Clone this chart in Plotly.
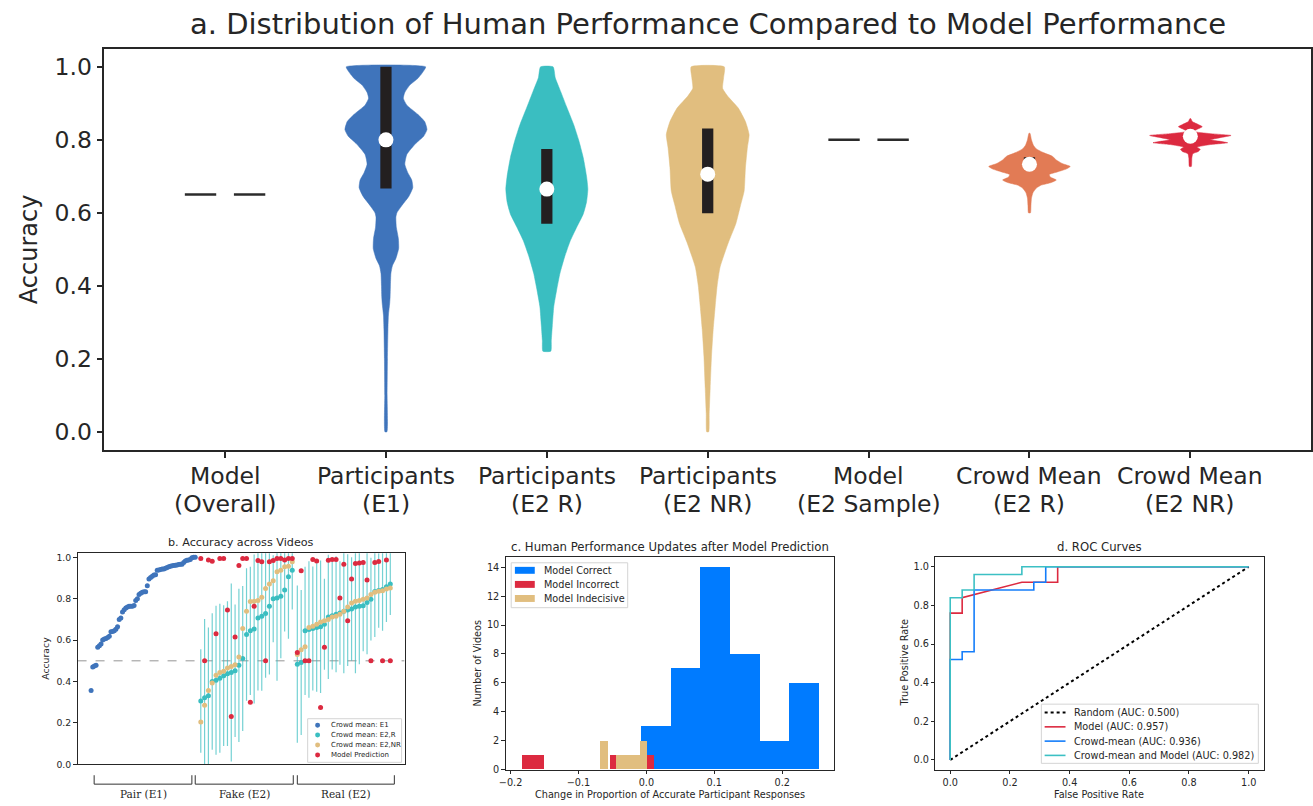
import plotly.graph_objects as go

W, H = 1313, 806
TXT = "#262626"
FONT = "DejaVu Sans"

# ---------------- Panel a data ----------------
a_labels_line1 = ["Model", "Participants", "Participants", "Participants", "Model", "Crowd Mean",
                  "Crowd Mean"]
a_labels_line2 = ["(Overall)", "(E1)", "(E2 R)", "(E2 NR)", "(E2 Sample)", "(E2 R)", "(E2 NR)"]
model_overall_acc = 0.65
model_e2_sample_acc = 0.80

# density profiles (accuracy level, relative half-width)
e1_levels = [1.0, 0.985, 0.968, 0.95, 0.93, 0.914, 0.895, 0.87, 0.85, 0.828, 0.81, 0.79, 0.76,
             0.733, 0.71, 0.69, 0.669, 0.645, 0.62, 0.60, 0.588, 0.56, 0.53, 0.502, 0.475,
             0.455, 0.434, 0.40, 0.37, 0.353, 0.32, 0.28, 0.2, 0.1, 0.0]
e1_density = [40, 37, 32, 24, 19, 17.5, 21, 32, 39, 41.3, 38, 30, 21, 19, 22, 26, 27, 23, 16, 11,
              10, 10.5, 12.5, 12.8, 10, 6.5, 5, 4.5, 4.2, 3.8, 2.5, 2, 1.5, 1.2, 1.0]
e2r_levels = [1.0, 0.97, 0.932, 0.89, 0.842, 0.80, 0.751, 0.70, 0.665, 0.63, 0.597, 0.56, 0.524,
              0.48, 0.435, 0.39, 0.343, 0.29, 0.25, 0.221]
e2r_density = [6.3, 8.5, 14, 20, 27, 32, 36.7, 40, 41.3, 40, 36.7, 30, 23.7, 18, 13.3, 10, 7,
               5.5, 4.5, 4]
e2nr_levels = [1.0, 0.97, 0.941, 0.92, 0.887, 0.85, 0.814, 0.78, 0.724, 0.66, 0.62, 0.57, 0.52,
               0.452, 0.40, 0.343, 0.28, 0.207, 0.12, 0.05, 0.0]
e2nr_density = [16.7, 16, 15, 20, 30.8, 38, 41.7, 40, 38, 36.7, 33, 28.3, 21, 12.5, 9.5, 7.5,
                5.5, 3.8, 2.5, 1.5, 1.0]
crowd_r_levels = [0.818, 0.80, 0.785, 0.775, 0.765, 0.755, 0.745, 0.735, 0.727, 0.72, 0.712,
                  0.705, 0.698, 0.69, 0.683, 0.676, 0.668, 0.655, 0.64, 0.62, 0.60]
crowd_r_density = [0.5, 2, 4, 7, 14, 23, 27, 33, 41, 37, 28, 20, 21, 27, 22, 12, 7, 3.5, 2, 1.5, 1]
crowd_nr_levels = [0.858, 0.85, 0.842, 0.836, 0.829, 0.823, 0.817, 0.812, 0.806, 0.800, 0.796,
                   0.792, 0.787, 0.780, 0.774, 0.768, 0.762, 0.75, 0.727]
crowd_nr_density = [0.5, 2, 8, 12, 7, 3.5, 20, 41, 30, 20, 30, 37.6, 20, 7, 10, 8, 2.5, 1.5, 1]

box_pos = [1, 2, 3, 5, 6]
box_q1 = [0.667, 0.570, 0.599, 0.733, 0.806]
box_median = [0.80, 0.665, 0.706, 0.733, 0.81]
box_q3 = [1.0, 0.775, 0.831, 0.752, 0.815]

col_e1 = "rgb(63,116,187)"
col_teal = "rgb(58,190,193)"
col_tan = "rgb(225,190,127)"
col_orange = "rgb(226,123,85)"
col_red = "rgb(220,42,64)"

# ---------------- Panel b data ----------------
e1_acc = [0.357, 0.47, 0.475, 0.478, 0.565, 0.573, 0.581, 0.60, 0.605, 0.608, 0.613, 0.619, 0.64,
          0.642, 0.645, 0.653, 0.664, 0.70, 0.707, 0.736, 0.747, 0.755, 0.76, 0.764, 0.764, 0.764,
          0.767, 0.791, 0.80, 0.82, 0.826, 0.831, 0.834, 0.834, 0.863, 0.895, 0.903, 0.909, 0.914,
          0.916, 0.938, 0.939, 0.941, 0.943, 0.943, 0.947, 0.951, 0.954, 0.957, 0.959, 0.96, 0.962,
          0.963, 0.965, 0.967, 0.967, 0.975, 0.982, 0.986, 0.987, 0.99, 0.998, 1.0, 1.0]
fake_r = [0.306, 0.322, 0.331, 0.40, 0.406, 0.416, 0.428, 0.438, 0.444, 0.452, 0.478, 0.511, 0.627,
          0.645, 0.654, 0.707, 0.715, 0.728, 0.764, 0.80, 0.804, 0.812, 0.842, 0.906, 0.938]
fake_r_err = [0.25, 0.38, 0.33, 0.33, 0.36, 0.36, 0.34, 0.35, 0.43, 0.32, 0.37, 0.35, 0.32, 0.31,
              0.36, 0.35, 0.36, 0.31, 0.33, 0.21, 0.40, 0.30, 0.20, 0.30, 0.19]
fake_nr = [0.205, 0.285, 0.357, 0.393, 0.43, 0.443, 0.449, 0.465, 0.473, 0.481, 0.519, 0.656, 0.74,
           0.787, 0.788, 0.791, 0.807, 0.849, 0.871, 0.887, 0.93, 0.938, 0.954, 0.957, 0.979]
fake_model = [0.994, 0.50, 0.987, 0.981, 0.631, 0.994, 0.994, 0.745, 0.231, 0.615, 0.96, 0.994,
              0.994, 0.30, 0.763, 0.985, 0.978, 0.50, 0.978, 0.985, 0.994, 0.994, 0.987, 0.994,
              0.994]
real_r = [0.484, 0.492, 0.645, 0.651, 0.656, 0.661, 0.664, 0.677, 0.712, 0.718, 0.725, 0.731, 0.74,
          0.745, 0.75, 0.76, 0.763, 0.766, 0.782, 0.798, 0.835, 0.84, 0.845, 0.858, 0.871]
real_r_err = [0.38, 0.35, 0.31, 0.33, 0.30, 0.31, 0.32, 0.22, 0.30, 0.26, 0.28, 0.25, 0.30, 0.27,
              0.25, 0.32, 0.28, 0.22, 0.25, 0.20, 0.22, 0.18, 0.20, 0.17, 0.15]
real_nr = [0.53, 0.553, 0.568, 0.661, 0.667, 0.677, 0.688, 0.693, 0.699, 0.712, 0.715, 0.725, 0.74,
           0.76, 0.779, 0.788, 0.791, 0.798, 0.804, 0.82, 0.831, 0.836, 0.839, 0.847, 0.852]
real_model = [0.54, 0.935, 0.50, 0.50, 0.99, 0.982, 0.274, 0.565, 0.986, 0.99, 0.99, 0.804, 0.967,
              0.693, 0.895, 0.97, 0.973, 0.975, 0.89, 0.50, 0.975, 0.98, 0.50, 0.987, 0.50]
b_groups = ["Pair (E1)", "Fake (E2)", "Real (E2)"]
b_legend = ["Crowd mean: E1", "Crowd mean: E2,R", "Crowd mean: E2,NR", "Model Prediction"]

# ---------------- Panel c data ----------------
hist_correct_edges = [-0.0083, 0.0354, 0.0790, 0.1227, 0.1664, 0.2100, 0.2537]
hist_correct_counts = [3, 7, 14, 8, 2, 6]
hist_incorrect_bins = [(-0.1844, -0.1512), (-0.0546, -0.0213), (-0.0213, 0.0112)]
hist_incorrect_counts = [1, 1, 1]
hist_indecisive_edges = [-0.0693, -0.0576, -0.0459, -0.0342, -0.0225, -0.0107, 0.0010]
hist_indecisive_counts = [2, 0, 1, 1, 1, 2]
c_legend = ["Model Correct", "Model Incorrect", "Model Indecisive"]
col_blue = "rgb(0,123,255)"

# ---------------- Panel d data ----------------
roc_random = ([0, 1], [0, 1])
roc_model = ([0, 0, 0.04, 0.04, 0.24, 0.36, 0.36, 1.0],
             [0, 0.76, 0.76, 0.84, 0.92, 0.92, 1.0, 1.0])
roc_crowd = ([0, 0, 0.04, 0.04, 0.08, 0.08, 0.28, 0.28, 0.32, 0.32, 1.0],
             [0, 0.52, 0.52, 0.56, 0.56, 0.88, 0.88, 0.92, 0.92, 1.0, 1.0])
roc_both = ([0, 0, 0.04, 0.04, 0.08, 0.08, 0.24, 0.24, 1.0],
            [0, 0.84, 0.84, 0.88, 0.88, 0.96, 0.96, 1.0, 1.0])
roc_names = ["Random (AUC: 0.500)", "Model (AUC: 0.957)", "Crowd-mean (AUC: 0.936)",
             "Crowd-mean and Model (AUC: 0.982)"]
col_roc_blue = "rgb(20,125,250)"
col_roc_teal = "rgb(60,192,196)"

fig = go.Figure()


def px(xp):
    return xp / W


def py(yp):
    return 1 - yp / H


# ---------- panel a ----------
PX_PER_CAT = 162.0


def violin(center, levels, dens, color):
    s = 1.0 / PX_PER_CAT
    xs = [center + d * s for d in dens] + [center - d * s for d in reversed(dens)]
    ys = list(levels) + list(reversed(levels))
    xs.append(xs[0]); ys.append(ys[0])
    fig.add_trace(go.Scatter(x=xs, y=ys, mode="lines", fill="toself", fillcolor=color,
                             line=dict(color=color, width=0.5, shape="spline", smoothing=0.5),
                             showlegend=False, hoverinfo="skip", xaxis="x", yaxis="y"))


def model_dash(center, val):
    fig.add_trace(go.Scatter(x=[center - 0.25, center - 0.055, None, center + 0.055, center + 0.25],
                             y=[val, val, None, val, val], mode="lines",
                             line=dict(color="#2b2b2b", width=2.5), showlegend=False,
                             xaxis="x", yaxis="y"))


model_dash(0, model_overall_acc)
violin(1, e1_levels, e1_density, col_e1)
violin(2, e2r_levels, e2r_density, col_teal)
violin(3, e2nr_levels, e2nr_density, col_tan)
model_dash(4, model_e2_sample_acc)
violin(5, crowd_r_levels, crowd_r_density, col_orange)
violin(6, crowd_nr_levels, crowd_nr_density, col_red)

BOX_HW = 0.035
bx, by = [], []
for c, q1, q3 in zip(box_pos, box_q1, box_q3):
    bx += [c - BOX_HW, c + BOX_HW, c + BOX_HW, c - BOX_HW, c - BOX_HW, None]
    by += [q1, q1, q3, q3, q1, None]
fig.add_trace(go.Scatter(x=bx, y=by, mode="lines", fill="toself", fillcolor="#231f20",
                         line=dict(color="#231f20", width=0), showlegend=False,
                         xaxis="x", yaxis="y"))
fig.add_trace(go.Scatter(x=box_pos, y=box_median, mode="markers",
                         marker=dict(color="white", size=15, line=dict(width=0)),
                         showlegend=False, xaxis="x", yaxis="y"))

for i, (l1, l2) in enumerate(zip(a_labels_line1, a_labels_line2)):
    fig.add_annotation(x=i, xref="x", y=py(478), yref="paper", text=l1, showarrow=False,
                       font=dict(size=23.5, color=TXT), yanchor="middle")
    fig.add_annotation(x=i, xref="x", y=py(506.5), yref="paper", text=l2, showarrow=False,
                       font=dict(size=23.5, color=TXT), yanchor="middle")

# ---------- panel b ----------
def spread(a, b, n):
    return [a + (b - a) * i / (n - 1) for i in range(n)]


x_e1 = spread(-0.03, 1.0, len(e1_acc))
x_fake = spread(1.055, 1.96, len(fake_r))
x_real = spread(2.01, 2.93, len(real_r))

fig.add_shape(type="line", xref="x2", yref="y2", x0=-0.164, x1=3.071, y0=0.5, y1=0.5,
              line=dict(color="#7a7a7a", width=0.8, dash="dash"), layer="below")

fig.add_trace(go.Scatter(x=x_e1, y=e1_acc, mode="markers", name=b_legend[0],
                         marker=dict(color=col_e1, size=5), xaxis="x2", yaxis="y2",
                         showlegend=False))
fig.add_trace(go.Scatter(x=x_fake + x_real, y=fake_r + real_r, mode="markers",
                         name=b_legend[1], marker=dict(color=col_teal, size=5),
                         error_y=dict(type="data", array=fake_r_err + real_r_err, symmetric=True,
                                      color="rgba(58,190,193,0.7)", thickness=1.2, width=0),
                         xaxis="x2", yaxis="y2", showlegend=False))
fig.add_trace(go.Scatter(x=x_fake + x_real, y=fake_nr + real_nr, mode="markers",
                         name=b_legend[2], marker=dict(color=col_tan, size=5),
                         xaxis="x2", yaxis="y2", showlegend=False))
fig.add_trace(go.Scatter(x=x_fake + x_real, y=fake_model + real_model, mode="markers",
                         name=b_legend[3], marker=dict(color=col_red, size=5),
                         xaxis="x2", yaxis="y2", showlegend=False))

bracket_spans = [(0.0, 0.967), (1.0, 1.97), (2.01, 2.97)]
for (x0, x1), lab in zip(bracket_spans, b_groups):
    for sh in [dict(x0=x0, x1=x1, y0=py(789), y1=py(789)),
               dict(x0=x0, x1=x0, y0=py(789), y1=py(780)),
               dict(x0=x1, x1=x1, y0=py(789), y1=py(780))]:
        fig.add_shape(type="line", xref="x2", yref="paper", line=dict(color="#333", width=1), **sh)
    fig.add_annotation(x=(x0 + x1) / 2, xref="x2", y=py(799), yref="paper", text=lab,
                       showarrow=False, font=dict(family="DejaVu Serif", size=10.5, color=TXT),
                       yanchor="middle")

# ---------- panel c ----------
def bars_from_edges(edges, counts, color, name):
    centers = [(edges[i] + edges[i + 1]) / 2 for i in range(len(counts))]
    widths = [edges[i + 1] - edges[i] for i in range(len(counts))]
    fig.add_trace(go.Bar(x=centers, y=counts, width=widths, name=name,
                         marker=dict(color=color, line=dict(width=0)),
                         xaxis="x3", yaxis="y3", showlegend=False))


bars_from_edges(hist_correct_edges, hist_correct_counts, col_blue, c_legend[0])
fig.add_trace(go.Bar(x=[(a + b) / 2 for a, b in hist_incorrect_bins], y=hist_incorrect_counts,
                     width=[b - a for a, b in hist_incorrect_bins], name=c_legend[1],
                     marker=dict(color=col_red, line=dict(width=0)),
                     xaxis="x3", yaxis="y3", showlegend=False))
bars_from_edges(hist_indecisive_edges, hist_indecisive_counts, col_tan, c_legend[2])

# ---------- panel d ----------
roc_styles = [dict(color="black", width=2, dash="dot"), dict(color=col_red, width=1.6),
              dict(color=col_roc_blue, width=1.6), dict(color=col_roc_teal, width=1.6)]
for (xs, ys), name, st in zip([roc_random, roc_model, roc_crowd, roc_both], roc_names, roc_styles):
    fig.add_trace(go.Scatter(x=xs, y=ys, mode="lines", name=name, line=st,
                             xaxis="x4", yaxis="y4", showlegend=False))


# ---------- legends (drawn as boxes, symbols and text) ----------
def legend_frame(x0, y0, x1, y1):
    fig.add_shape(type="rect", xref="paper", yref="paper", x0=px(x0), x1=px(x1), y0=py(y0),
                  y1=py(y1), fillcolor="rgba(255,255,255,0.85)",
                  line=dict(color="#d4d4d4", width=1), layer="above")


def legend_text(x, y, text, size):
    fig.add_annotation(x=px(x), y=py(y), xref="paper", yref="paper", text=text, showarrow=False,
                       xanchor="left", yanchor="middle", font=dict(size=size, color=TXT))


# panel b legend
legend_frame(302.5, 723, 397, 767)
for i, (name, col) in enumerate(zip(b_legend, [col_e1, col_teal, col_tan, col_red])):
    yy = 729.5 + 10 * i
    fig.add_shape(type="circle", xref="paper", yref="paper", x0=px(310), x1=px(315),
                  y0=py(yy + 2.5), y1=py(yy - 2.5), fillcolor=col, line=dict(width=0),
                  layer="above")
    legend_text(324, yy, name, 7)

# panel c legend
legend_frame(507.3, 565.7, 624.5, 611)
for i, (name, col) in enumerate(zip(c_legend, [col_blue, col_red, col_tan])):
    yy = 573.3 + 14.2 * i
    fig.add_shape(type="rect", xref="paper", yref="paper", x0=px(511), x1=px(531),
                  y0=py(yy + 3.5), y1=py(yy - 3.5), fillcolor=col, line=dict(width=0),
                  layer="above")
    legend_text(538, yy, name, 9.7)

# panel d legend
legend_frame(1040.7, 708.3, 1259, 768)
for i, (name, st) in enumerate(zip(roc_names, roc_styles)):
    yy = 716.8 + 14.4 * i
    fig.add_shape(type="line", xref="paper", yref="paper", x0=px(1044), x1=px(1065),
                  y0=py(yy), y1=py(yy), line=st, layer="above")
    legend_text(1072, yy, name, 9.7)


# ---------- axes ----------
def dom_x(a, b):
    return [a / W, b / W]


def dom_y(top, bot):
    return [1 - bot / H, 1 - top / H]


small_axis = dict(showline=True, mirror=True, linecolor=TXT, linewidth=0.9, ticks="outside",
                  ticklen=3.5, tickwidth=0.8, tickcolor=TXT, showgrid=False, zeroline=False,
                  tickfont=dict(family=FONT, size=9.7, color=TXT))
ticks01 = dict(tickvals=[0, 0.2, 0.4, 0.6, 0.8, 1.0],
               ticktext=["0.0", "0.2", "0.4", "0.6", "0.8", "1.0"])

fig.update_layout(
    width=W, height=H, margin=dict(l=0, r=0, t=0, b=0),
    paper_bgcolor="white", plot_bgcolor="white", barmode="overlay", bargap=0,
    font=dict(family=FONT, color=TXT), showlegend=False,
    xaxis=dict(domain=dom_x(98, 1312), range=[-0.75, 6.75], tickvals=list(range(7)),
               showticklabels=False, showline=True, mirror=True, linecolor=TXT, linewidth=1.6,
               ticks="outside", ticklen=6, tickwidth=1.6, tickcolor=TXT, showgrid=False,
               zeroline=False, anchor="y"),
    yaxis=dict(ticks01, domain=dom_y(47, 452), range=[-0.05, 1.05], showline=True, mirror=True,
               linecolor=TXT, linewidth=1.6, ticks="outside", ticklen=6, tickwidth=1.6,
               tickcolor=TXT, showgrid=False, zeroline=False,
               tickfont=dict(size=23.5, color=TXT), anchor="x"),
    xaxis2=dict(domain=dom_x(71, 400), range=[-0.164, 3.071], showticklabels=False, ticks="",
                showline=True, mirror=True, linecolor=TXT, linewidth=0.9, showgrid=False,
                zeroline=False, anchor="y2"),
    yaxis2=dict(small_axis, **ticks01, domain=dom_y(556, 769), range=[0, 1.02],
                tickfont=dict(family=FONT, size=9.3, color=TXT), anchor="x2"),
    xaxis3=dict(small_axis, domain=dom_x(501.7, 831.7), range=[-0.2073, 0.2757],
                tickvals=[-0.2, -0.1, 0.0, 0.1, 0.2],
                ticktext=["\u22120.2", "\u22120.1", "0.0", "0.1", "0.2"], anchor="y3"),
    yaxis3=dict(small_axis, domain=dom_y(560, 774.3), range=[0, 14.7],
                tickvals=[0, 2, 4, 6, 8, 10, 12, 14], anchor="x3"),
    xaxis4=dict(small_axis, **ticks01, domain=dom_x(934, 1264.3), range=[-0.05, 1.05],
                anchor="y4"),
    yaxis4=dict(small_axis, **ticks01, domain=dom_y(560, 774.3), range=[-0.05, 1.05],
                anchor="x4"),
)

# titles and axis titles
texts = [
    ("a. Distribution of Human Performance Compared to Model Performance", 705, 22, 29, 0),
    ("Accuracy", 22, 249.5, 24, -90),
    ("b. Accuracy across Videos", 235.5, 545, 11.2, 0),
    ("Accuracy", 39.3, 662.5, 9.3, -90),
    ("c. Human Performance Updates after Model Prediction", 666.7, 550, 11.7, 0),
    ("Change in Proportion of Accurate Participant Responses", 666.7, 799, 9.7, 0),
    ("Number of Videos", 473.3, 667, 9.7, -90),
    ("d. ROC Curves", 1099, 550, 11.7, 0),
    ("False Positive Rate", 1099, 799, 9.7, 0),
    ("True Positive Rate", 902.7, 667, 9.7, -90),
]
for t, x, y, s, ang in texts:
    fig.add_annotation(text=t, x=px(x), y=py(y), xref="paper", yref="paper", showarrow=False,
                       font=dict(family=FONT, size=s, color=TXT), xanchor="center",
                       yanchor="middle", textangle=ang)

fig.write_html("out.html", post_script="document.body.style.margin='0px';",
               config={"displayModeBar": False})
